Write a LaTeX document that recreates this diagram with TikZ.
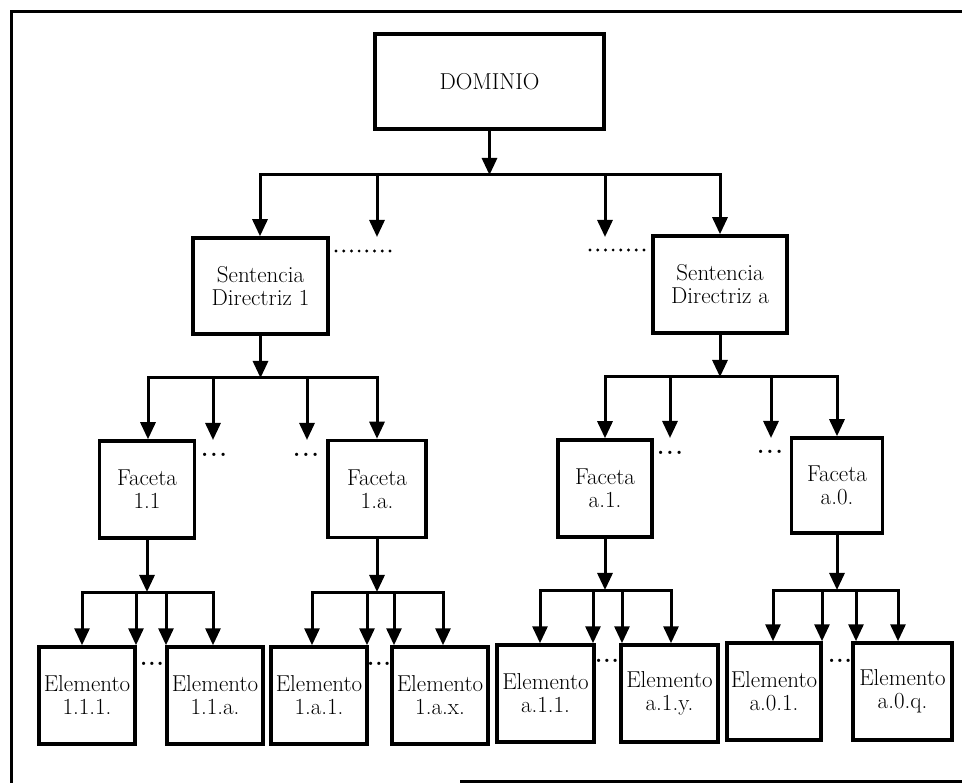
\documentclass[tikz,border=0pt]{standalone}
\usepackage{fontspec}
\usetikzlibrary{arrows.meta}
\begin{document}
\begin{tikzpicture}[x=1pt,y=-1pt,
		box/.style={draw,line width=3.5pt,inner sep=0pt,align=center,font=\fontsize{23}{23}\selectfont},
		facet/.style={box,minimum width=95pt,minimum height=97pt},
		elem/.style={box,minimum width=96pt,minimum height=97pt},
		wire/.style={line width=3pt,line cap=rect},
		arr/.style={line width=3pt,-{Triangle[length=17pt,width=15pt]}},
		ell/.style={inner sep=0pt,anchor=base,font=\fontsize{23}{23}\selectfont\bfseries},
		dotrow/.style={line width=3.2pt,line cap=round,dash pattern=on 0pt off 7.7pt}]
		\useasboundingbox (0,0) rectangle (962,783);
		\draw[line width=3pt] (962,12) -- (11,12) -- (11,783);
		\draw[line width=3pt] (460,781) -- (962,781);
		\path
			(489.5, 81.5) node[box,minimum width=229pt,minimum height=95pt] (dom)  {DOMINIO}
			(260.5,286)   node[box,minimum width=135pt,minimum height=96pt] (sd1)  {Sentencia\\Directriz 1}
			(720,  284.5) node[box,minimum width=134pt,minimum height=97pt] (sda)  {Sentencia\\Directriz a}
			(147,  489.5) node[facet]                                      (f11)  {Faceta\\1.1}
			(377,  489)   node[facet,minimum width=98pt]                   (f1a)  {Faceta\\1.a.}
			(605,  488.5) node[facet,minimum width=94pt]                   (fa1)  {Faceta\\a.1.}
			(837,  485.5) node[facet,minimum width=91pt,minimum height=95pt] (fa0) {Faceta\\a.0.}
			( 87,  695.5) node[elem]                                       (e111) {Elemento\\1.1.1.}
			(215,  695.5) node[elem]                                       (e11a) {Elemento\\1.1.a.}
			(319,  695.5) node[elem]                                       (e1a1) {Elemento\\1.a.1.}
			(440,  695.5) node[elem]                                       (e1ax) {Elemento\\1.a.x.}
			(545.5,693.5) node[elem,minimum width=97pt]                    (ea11) {Elemento\\a.1.1.}
			(669.5,693.5) node[elem,minimum width=97pt]                    (ea1y) {Elemento\\a.1.y.}
			(774,  691.5) node[elem,minimum width=94pt]                    (ea01) {Elemento\\a.0.1.}
			(902.5,691.5) node[elem,minimum width=99pt]                    (ea0q) {Elemento\\a.0.q.}
			(214,457) node[ell] (d1a) {.\kern2pt.\kern2pt.}
			(306,457) node[ell] (d1b) {.\kern2pt.\kern2pt.}
			(670,455) node[ell] (d2a) {.\kern2pt.\kern2pt.}
			(770,454) node[ell] (d2b) {.\kern2pt.\kern2pt.}
			(152,665) node[ell] (d3)  {.\kern1pt.\kern1pt.}
			(379,665) node[ell] (d4)  {.\kern1pt.\kern1pt.}
			(607,662) node[ell] (d5)  {.\kern1pt.\kern1pt.}
			(840,662) node[ell] (d6)  {.\kern1pt.\kern1pt.}
		;
		\coordinate (b0w) at (260,175); \coordinate (b0e) at (720,175);
		\coordinate (t0a) at (377,237); \coordinate (t0b) at (605,237);
		\coordinate (b1w) at (148,378); \coordinate (b1e) at (377,378);
		\coordinate (t1a) at (213,440); \coordinate (t1b) at (307,440);
		\coordinate (b2w) at (605,377); \coordinate (b2e) at (837,377);
		\coordinate (t2a) at (670,438); \coordinate (t2b) at (771,438);
		\coordinate (b3w) at ( 82,592); \coordinate (b3e) at (213,592);
		\coordinate (m3a) at (136,592); \coordinate (m3b) at (166,592);
		\coordinate (b4w) at (312,592); \coordinate (b4e) at (443,592);
		\coordinate (m4a) at (367,592); \coordinate (m4b) at (394,592);
		\coordinate (b5w) at (540,590); \coordinate (b5e) at (671,590);
		\coordinate (m5a) at (593,590); \coordinate (m5b) at (622,590);
		\coordinate (b6w) at (773,590); \coordinate (b6e) at (898,590);
		\coordinate (m6a) at (822,590); \coordinate (m6b) at (856,590);
		\coordinate (s1) at (336,251); \coordinate (s2) at (590,250);
		\draw[dotrow] (s1) -- ++(54,0);
		\draw[dotrow] (s2) -- ++(54,0);
		\draw[arr]  (dom)        -- (dom |- b0w);
		\draw[wire] (b0w)        -- (b0e);
		\draw[arr]  (b0w)        -- (b0w |- sd1.north);
		\draw[arr]  (t0a |- b0w) -- (t0a);
		\draw[arr]  (t0b |- b0w) -- (t0b);
		\draw[arr]  (b0e)        -- (b0e |- sda.north);
		\draw[arr]  (sd1)        -- (sd1 |- b1w);
		\draw[wire] (b1w)        -- (b1e);
		\draw[arr]  (b1w)        -- (b1w |- f11.north);
		\draw[arr]  (t1a |- b1w) -- (t1a);
		\draw[arr]  (t1b |- b1w) -- (t1b);
		\draw[arr]  (b1e)        -- (b1e |- f1a.north);
		\draw[arr]  (sda)        -- (sda |- b2w);
		\draw[wire] (b2w)        -- (b2e);
		\draw[arr]  (b2w)        -- (b2w |- fa1.north);
		\draw[arr]  (t2a |- b2w) -- (t2a);
		\draw[arr]  (t2b |- b2w) -- (t2b);
		\draw[arr]  (b2e)        -- (b2e |- fa0.north);
		\draw[arr]  (f11)        -- (f11 |- b3w);
		\draw[wire] (b3w)        -- (b3e);
		\draw[arr]  (b3w)        -- (b3w |- e111.north);
		\draw[arr]  (m3a)        -- (m3a |- e111.north);
		\draw[arr]  (m3b)        -- (m3b |- e11a.north);
		\draw[arr]  (b3e)        -- (b3e |- e11a.north);
		\draw[arr]  (f1a)        -- (f1a |- b4w);
		\draw[wire] (b4w)        -- (b4e);
		\draw[arr]  (b4w)        -- (b4w |- e1a1.north);
		\draw[arr]  (m4a)        -- (m4a |- e1a1.north);
		\draw[arr]  (m4b)        -- (m4b |- e1ax.north);
		\draw[arr]  (b4e)        -- (b4e |- e1ax.north);
		\draw[arr]  (fa1)        -- (fa1 |- b5w);
		\draw[wire] (b5w)        -- (b5e);
		\draw[arr]  (b5w)        -- (b5w |- ea11.north);
		\draw[arr]  (m5a)        -- (m5a |- ea11.north);
		\draw[arr]  (m5b)        -- (m5b |- ea1y.north);
		\draw[arr]  (b5e)        -- (b5e |- ea1y.north);
		\draw[arr]  (fa0)        -- (fa0 |- b6w);
		\draw[wire] (b6w)        -- (b6e);
		\draw[arr]  (b6w)        -- (b6w |- ea01.north);
		\draw[arr]  (m6a)        -- (m6a |- ea01.north);
		\draw[arr]  (m6b)        -- (m6b |- ea0q.north);
		\draw[arr]  (b6e)        -- (b6e |- ea0q.north);
	\end{tikzpicture}
\end{document}
